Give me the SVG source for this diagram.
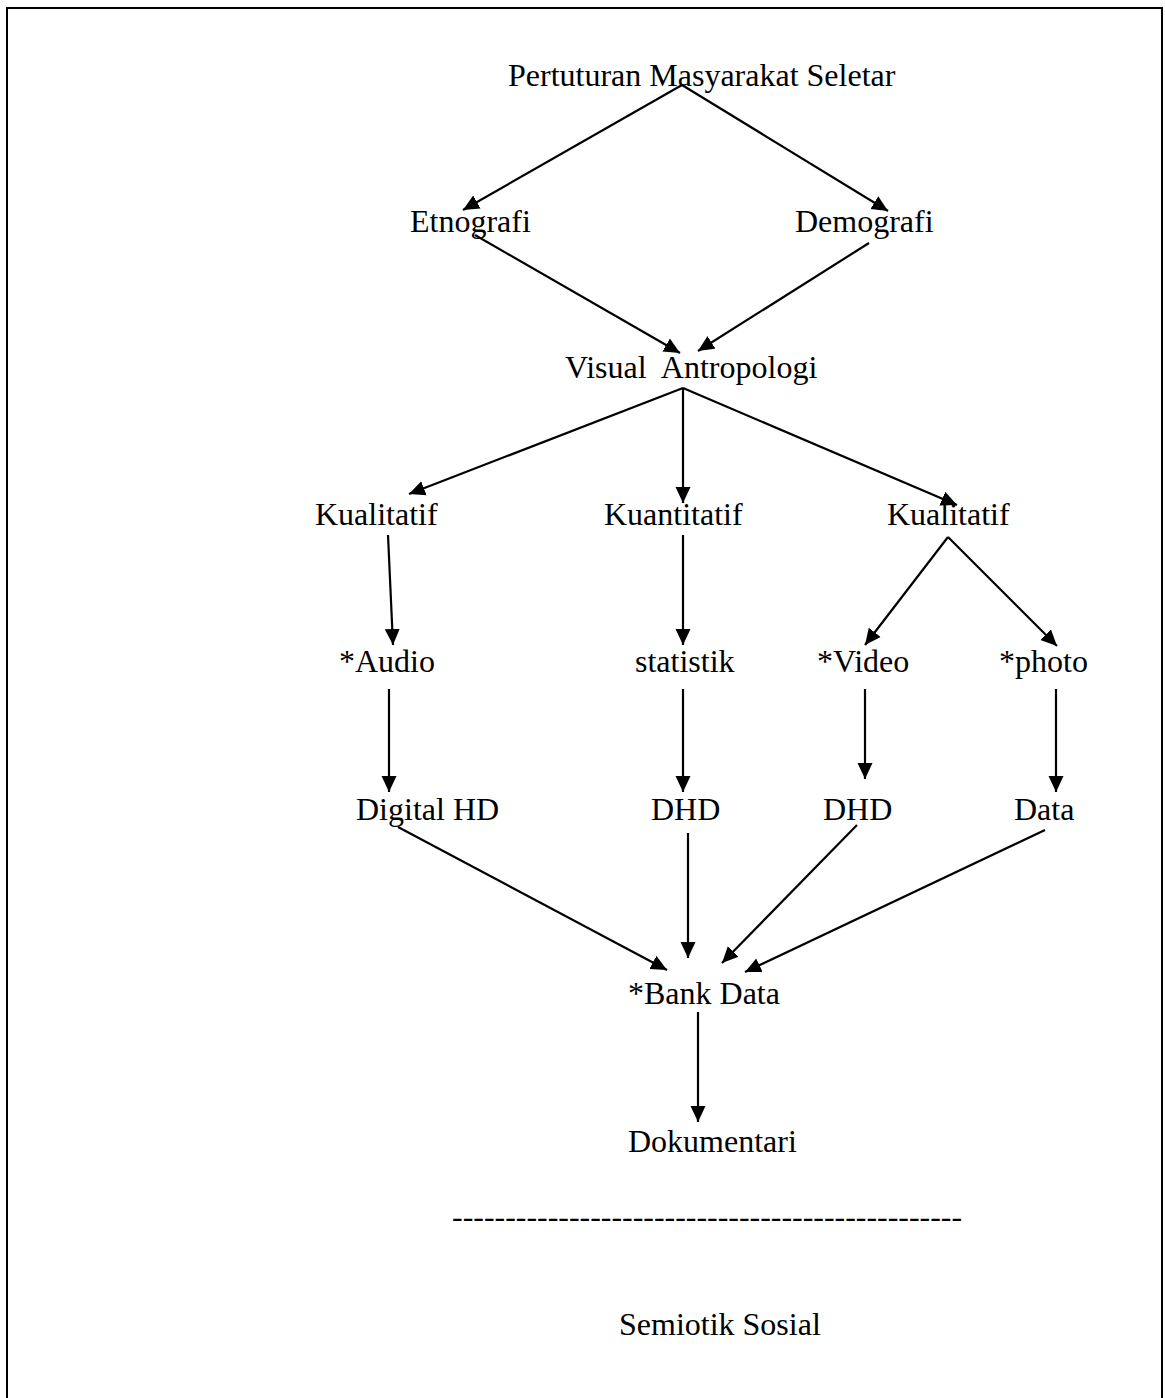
<svg xmlns="http://www.w3.org/2000/svg" width="1165" height="1398" viewBox="0 0 1165 1398">
<style>
  .t { font-family: "Liberation Serif", "Times New Roman", serif; font-size: 32px; fill: #000; white-space: pre; }
  .c { stroke: #000; stroke-width: 2.2; fill: none; marker-end: url(#ah); }
  .frame { stroke: #000; stroke-width: 2; fill: none; }
</style>
<defs>
  <marker id="ah" markerUnits="userSpaceOnUse" markerWidth="17" markerHeight="16" refX="16" refY="8" orient="auto">
    <path d="M0,0.5 L16,8 L0,15.5 Z" fill="#000"/>
  </marker>
</defs>
<rect x="0" y="0" width="1165" height="1398" fill="#fff"/>
<path class="frame" d="M7,1398 V8 H1162 V1398"/>

<g id="connectors">
  <line class="c" x1="682" y1="85" x2="463" y2="210"/>
  <line class="c" x1="682" y1="85" x2="888" y2="211"/>
  <line class="c" x1="475" y1="235" x2="680" y2="353"/>
  <line class="c" x1="869" y1="243" x2="698" y2="351"/>
  <line class="c" x1="683" y1="388" x2="409" y2="494"/>
  <line class="c" x1="683" y1="388" x2="683" y2="503"/>
  <line class="c" x1="683" y1="388" x2="957" y2="505"/>
  <line class="c" x1="388" y1="535" x2="393" y2="645"/>
  <line class="c" x1="683" y1="535" x2="683" y2="645"/>
  <line class="c" x1="948" y1="537" x2="865" y2="645"/>
  <line class="c" x1="948" y1="537" x2="1057" y2="646"/>
  <line class="c" x1="389" y1="689" x2="389" y2="792"/>
  <line class="c" x1="683" y1="689" x2="683" y2="792"/>
  <line class="c" x1="865" y1="689" x2="865" y2="779"/>
  <line class="c" x1="1056" y1="689" x2="1056" y2="792"/>
  <line class="c" x1="398" y1="827" x2="667" y2="970"/>
  <line class="c" x1="688" y1="833" x2="688" y2="958"/>
  <line class="c" x1="857" y1="825" x2="722" y2="963"/>
  <line class="c" x1="1045" y1="830" x2="745" y2="972"/>
  <line class="c" x1="698" y1="1012" x2="698" y2="1122"/>
</g>

<g id="n-pertuturan"><text class="t" x="508" y="86">Pertuturan Masyarakat Seletar</text></g>
<g id="n-etnografi"><text class="t" x="410" y="232">Etnografi</text></g>
<g id="n-demografi"><text class="t" x="795" y="232">Demografi</text></g>
<g id="n-visual"><text class="t" x="565" y="378">Visual  Antropologi</text></g>
<g id="n-kualitatif1"><text class="t" x="315" y="525">Kualitatif</text></g>
<g id="n-kuantitatif"><text class="t" x="604" y="525">Kuantitatif</text></g>
<g id="n-kualitatif2"><text class="t" x="887" y="525">Kualitatif</text></g>
<g id="n-audio"><text class="t" x="339" y="672">*Audio</text></g>
<g id="n-statistik"><text class="t" x="635" y="672">statistik</text></g>
<g id="n-video"><text class="t" x="817" y="672">*Video</text></g>
<g id="n-photo"><text class="t" x="999" y="672">*photo</text></g>
<g id="n-digitalhd"><text class="t" x="356" y="820">Digital HD</text></g>
<g id="n-dhd1"><text class="t" x="651" y="820">DHD</text></g>
<g id="n-dhd2"><text class="t" x="823" y="820">DHD</text></g>
<g id="n-data"><text class="t" x="1014" y="820">Data</text></g>
<g id="n-bankdata"><text class="t" x="628" y="1004">*Bank Data</text></g>
<g id="n-dokumentari"><text class="t" x="628" y="1152">Dokumentari</text></g>
<g id="n-dashes"><text class="t" x="452" y="1227" textLength="510" lengthAdjust="spacingAndGlyphs">------------------------------------------------</text></g>
<g id="n-semiotik"><text class="t" x="619" y="1335">Semiotik Sosial</text></g>
</svg>
